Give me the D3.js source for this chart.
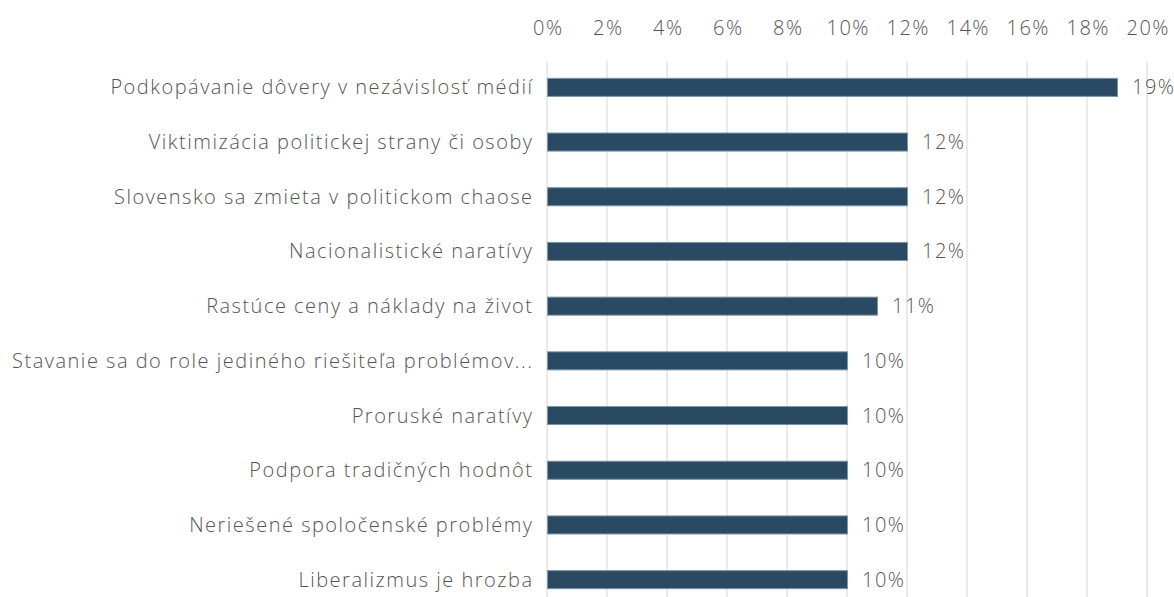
<!DOCTYPE html>
<html>
<head>
<meta charset="utf-8">
<script src="https://cdn.jsdelivr.net/npm/d3@7"></script>
<style>
  body { margin: 0; background: #fff; }
  text { font-family: "Open Sans", Lato, sans-serif; font-weight: 300; letter-spacing: 1.5px; }
</style>
</head>
<body>
<svg id="chart"></svg>
<script>
const categories = [
  'Podkopávanie dôvery v nezávislosť médií',
  'Viktimizácia politickej strany či osoby',
  'Slovensko sa zmieta v politickom chaose',
  'Nacionalistické naratívy',
  'Rastúce ceny a náklady na život',
  'Stavanie sa do role jediného riešiteľa problémov...',
  'Proruské naratívy',
  'Podpora tradičných hodnôt',
  'Neriešené spoločenské problémy',
  'Liberalizmus je hrozba'
];
const values = [19, 12, 12, 12, 11, 10, 10, 10, 10, 10];
const tickValues = [0, 2, 4, 6, 8, 10, 12, 14, 16, 18, 20];

const width = 1174, height = 597;
const svg = d3.select('#chart').attr('width', width).attr('height', height);

const x = d3.scaleLinear().domain([0, 20]).range([547, 1147]);
const y = d3.scaleBand().domain(categories).range([60, 607]).paddingInner(0.67).paddingOuter(0.335);

// gridlines
svg.append('g').selectAll('line')
  .data(tickValues)
  .join('line')
  .attr('x1', d => x(d)).attr('x2', d => x(d))
  .attr('y1', 61).attr('y2', height)
  .attr('stroke', '#d6d6d6').attr('stroke-width', 1);

// top axis labels
const xAxis = d3.axisTop(x).tickValues(tickValues).tickFormat(d => d + '%').tickSize(0);
const ax = svg.append('g').attr('transform', 'translate(0,38)').call(xAxis);
ax.select('.domain').remove();
ax.selectAll('text')
  .attr('dx', '0.75px')
  .attr('fill', '#555')
  .style('font-size', '20px')
  .style('font-family', '"Open Sans", sans-serif');

// bars
svg.append('g').selectAll('rect')
  .data(values)
  .join('rect')
  .attr('x', x(0) + 0.5)
  .attr('y', (d, i) => y(categories[i]))
  .attr('width', d => x(d) - x(0))
  .attr('height', y.bandwidth())
  .attr('fill', '#294a62')
  .attr('stroke', '#7d95a9')
  .attr('stroke-width', 1);

// category labels
svg.append('g').selectAll('text')
  .data(categories)
  .join('text')
  .attr('x', 533.5)
  .attr('y', d => y(d) + y.bandwidth() / 2)
  .attr('dy', '0.35em')
  .attr('text-anchor', 'end')
  .attr('fill', '#555')
  .style('font-size', '20px')
  .text(d => d);

// value labels
svg.append('g').selectAll('text')
  .data(values)
  .join('text')
  .attr('x', d => x(d) + 15)
  .attr('y', (d, i) => y(categories[i]) + y.bandwidth() / 2)
  .attr('dy', '0.35em')
  .attr('fill', '#555')
  .style('font-size', '20px')
  .text(d => d + '%');
</script>
</body>
</html>
